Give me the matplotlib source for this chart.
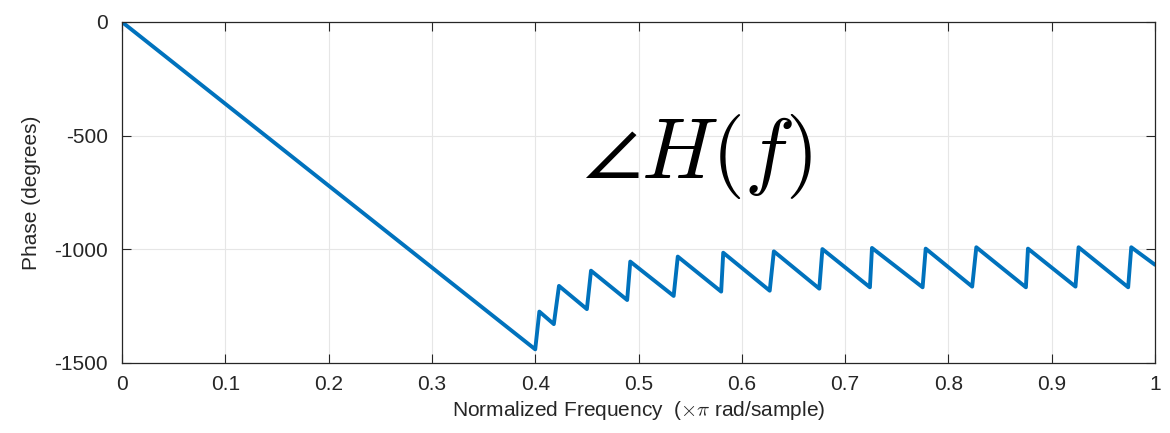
import numpy as np
import matplotlib.pyplot as plt

# Phase response vertices (normalized freq, degrees)
freq = [0.0, 0.400, 0.404, 0.418, 0.423, 0.450, 0.454, 0.489, 0.492,
        0.534, 0.538, 0.580, 0.582, 0.627, 0.631, 0.675, 0.678,
        0.724, 0.726, 0.775, 0.778, 0.823, 0.827, 0.875, 0.877,
        0.923, 0.926, 0.974, 0.977, 1.0]
phase = [0, -1440, -1274, -1329, -1161, -1263, -1094, -1223, -1054,
         -1205, -1032, -1186, -1015, -1182, -1009, -1173, -999,
         -1167, -994, -1167, -997, -1164, -991, -1167, -997,
         -1164, -991, -1167, -991, -1068]

xticks = [0, 0.1, 0.2, 0.3, 0.4, 0.5, 0.6, 0.7, 0.8, 0.9, 1]
xticklabels = ['0', '0.1', '0.2', '0.3', '0.4', '0.5', '0.6', '0.7', '0.8', '0.9', '1']
yticks = [-1500, -1000, -500, 0]

plt.rcParams['font.family'] = ['Liberation Sans', 'DejaVu Sans']
plt.rcParams['mathtext.fontset'] = 'cm'
plt.rcParams['axes.unicode_minus'] = False

fig = plt.figure(figsize=(11.7, 4.33), dpi=100)
ax = fig.add_axes([0.1043, 0.1617, 0.8829, 0.7875])

ax.plot(freq, phase, color='#0072BD', linewidth=2.8, solid_joinstyle='round',
        solid_capstyle='round')

ax.set_xlim(0, 1)
ax.set_ylim(-1500, 0)
ax.set_xticks(xticks)
ax.set_xticklabels(xticklabels)
ax.set_yticks(yticks)
ax.grid(True, color='#e6e6e6', linewidth=0.8)
ax.set_axisbelow(True)

ax.tick_params(direction='in', length=6.5, width=0.8, colors='#262626',
               labelsize=15, top=True, right=True, labelcolor='#262626')
ax.tick_params(axis='x', pad=9)
ax.tick_params(axis='y', pad=10)
for s in ax.spines.values():
    s.set_color('#262626')
    s.set_linewidth(0.9)

ax.set_xlabel(r'Normalized Frequency  ($\times\pi$ rad/sample)', fontsize=15, color='#262626', labelpad=3)
ax.set_ylabel('Phase (degrees)', fontsize=15, color='#262626', labelpad=10)

ax.text(0.446, -590, r'$\angle H(f)$', fontsize=61, va='center', ha='left')

fig.savefig('out.png', dpi=100)
